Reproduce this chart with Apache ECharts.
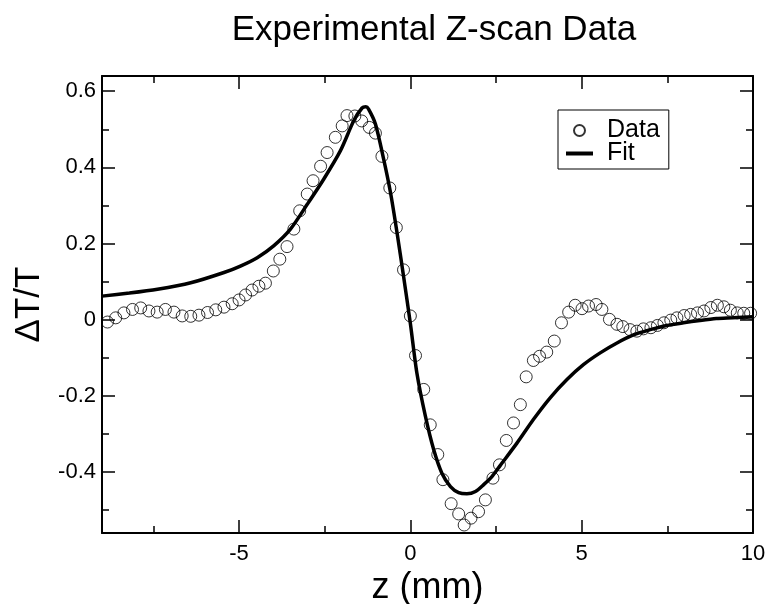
<!DOCTYPE html>
<html>
<head>
<meta charset="utf-8">
<script src="https://cdn.jsdelivr.net/npm/echarts@6/dist/echarts.min.js"></script>
<style>
  html, body { margin: 0; padding: 0; background: #fff; }
  #chart { width: 772px; height: 604px; }
</style>
</head>
<body>
<div id="chart"></div>
<script>
// measured points (z in mm, dT/T)
var dataZ = [-8.84, -8.60, -8.36, -8.11, -7.87, -7.63, -7.39, -7.15, -6.90, -6.66,
    -6.41, -6.17, -5.92, -5.68, -5.44, -5.20, -5.00, -4.81, -4.62, -4.42,
    -4.23, -4.00, -3.81, -3.60, -3.40, -3.23, -3.01, -2.84, -2.62, -2.43,
    -2.19, -1.99, -1.85, -1.62, -1.42, -1.20, -1.02, -0.83, -0.60, -0.41,
    -0.20, 0.00, 0.15, 0.39, 0.58, 0.80, 0.95, 1.19, 1.41, 1.57,
    1.77, 1.99, 2.19, 2.41, 2.60, 2.80, 3.01, 3.21, 3.38, 3.59,
    3.77, 3.98, 4.20, 4.41, 4.62, 4.81, 5.01, 5.20, 5.42, 5.59,
    5.81, 6.03, 6.20, 6.41, 6.61, 6.80, 7.02, 7.21, 7.40, 7.60,
    7.78, 7.99, 8.18, 8.38, 8.57, 8.77, 8.96, 9.15, 9.34, 9.54,
    9.73, 9.93];
var dataV = [-0.006, 0.005, 0.018, 0.027, 0.031, 0.023, 0.020, 0.027, 0.020, 0.010,
    0.009, 0.012, 0.019, 0.026, 0.033, 0.042, 0.052, 0.065, 0.078, 0.088,
    0.096, 0.128, 0.159, 0.192, 0.238, 0.286, 0.330, 0.365, 0.403, 0.439,
    0.479, 0.509, 0.536, 0.535, 0.522, 0.505, 0.490, 0.429, 0.346, 0.242,
    0.131, 0.010, -0.094, -0.183, -0.276, -0.354, -0.420, -0.483, -0.510, -0.539,
    -0.521, -0.504, -0.473, -0.416, -0.381, -0.317, -0.271, -0.223, -0.150, -0.107,
    -0.096, -0.085, -0.056, -0.008, 0.020, 0.038, 0.029, 0.036, 0.040, 0.027,
    0.001, -0.012, -0.018, -0.026, -0.030, -0.024, -0.021, -0.015, -0.008, -0.001,
    0.005, 0.011, 0.014, 0.018, 0.023, 0.032, 0.038, 0.034, 0.025, 0.018,
    0.017, 0.017];

// fit curve
var fitZ = [-9, -8.2, -7.38, -6.41, -5.44, -4.96, -4.47, -3.99, -3.50, -3.01,
    -2.53, -2.04, -1.65, -1.41, -1.30, -1.22, -1.02, -0.78, -0.58, -0.39,
    -0.20, 0, 0.19, 0.44, 0.68, 0.92, 1.17, 1.41, 1.65, 1.90,
    2.14, 2.38, 2.62, 3.11, 3.59, 4.08, 4.57, 5.05, 5.54, 6.03,
    6.51, 7.0, 7.48, 7.97, 8.45, 8.93, 9.42, 10];
var fitV = [0.062, 0.070, 0.080, 0.097, 0.124, 0.141, 0.163, 0.194, 0.238, 0.303,
    0.369, 0.444, 0.523, 0.556, 0.559, 0.553, 0.514, 0.422, 0.334, 0.229,
    0.115, -0.010, -0.140, -0.254, -0.341, -0.403, -0.438, -0.454, -0.457, -0.451,
    -0.433, -0.412, -0.383, -0.324, -0.262, -0.205, -0.157, -0.118, -0.087, -0.061,
    -0.040, -0.026, -0.015, -0.008, -0.002, 0.003, 0.005, 0.008];

var xMajor = [-5, 0, 5, 10];
var xMinor = [-7.5, -2.5, 2.5, 7.5];
var yMajor = [-0.4, -0.2, 0, 0.2, 0.4, 0.6];
var yMinor = [-0.5, -0.3, -0.1, 0.1, 0.3, 0.5];

var FONT = '"Liberation Sans", Arial, Helvetica, sans-serif';

function pairs(xs, ys) {
    var out = [];
    for (var i = 0; i < xs.length; i++) out.push([xs[i], ys[i]]);
    return out;
}

// one frame side: either the major ticks (with line) or the minor ticks
function makeAxis(min, max, pos, ticks, len, withLine, labelMargin) {
    return {
        type: 'value', min: min, max: max, position: pos,
        splitLine: {show: false},
        axisLine: {show: withLine, onZero: false, lineStyle: {color: '#000', width: 2}},
        axisTick: {show: true, inside: true, length: len, customValues: ticks,
            lineStyle: {color: '#000', width: 1.5}},
        axisLabel: labelMargin ? {show: true, customValues: ticks, color: '#000',
            fontSize: 22, fontFamily: FONT, margin: labelMargin} : {show: false}
    };
}

var xAxes = [
    makeAxis(-9, 10, 'bottom', xMajor, 13, true, 10),
    makeAxis(-9, 10, 'bottom', xMinor, 7, false, 0),
    makeAxis(-9, 10, 'top', xMajor, 13, true, 0),
    makeAxis(-9, 10, 'top', xMinor, 7, false, 0)
];
xAxes[0].name = 'z (mm)';
xAxes[0].nameLocation = 'middle';
xAxes[0].nameGap = 29;
xAxes[0].nameTextStyle = {fontSize: 36, color: '#000', fontFamily: FONT};

var yAxes = [
    makeAxis(-0.56, 0.64, 'left', yMajor, 13, true, 6),
    makeAxis(-0.56, 0.64, 'left', yMinor, 7, false, 0),
    makeAxis(-0.56, 0.64, 'right', yMajor, 13, true, 0),
    makeAxis(-0.56, 0.64, 'right', yMinor, 7, false, 0)
];
yAxes[0].name = 'ΔT/T';
yAxes[0].nameLocation = 'middle';
yAxes[0].nameGap = 53;
yAxes[0].nameTextStyle = {fontSize: 35, color: '#000', fontFamily: FONT};

var chart = echarts.init(document.getElementById('chart'), null, {renderer: 'canvas'});
chart.setOption({
    backgroundColor: '#fff',
    animation: false,
    title: {
        text: 'Experimental Z-scan Data',
        left: 429, top: 8, textAlign: 'center',
        textStyle: {fontSize: 35, fontWeight: 'normal', color: '#000', fontFamily: FONT}
    },
    legend: {
        orient: 'vertical', left: 558, top: 110,
        borderColor: '#000', borderWidth: 1, padding: [8, 9, 3, 8],
        itemWidth: 27, itemHeight: 11, itemGap: -2,
        textStyle: {fontSize: 25, lineHeight: 22, color: '#000', fontFamily: FONT, padding: [0, 0, 0, 9]},
        data: [
            {name: 'Data'},
            {name: 'Fit', icon: 'path://M0,0H27V4H0Z'}
        ]
    },
    grid: {left: 102, right: 19, top: 76, bottom: 71, outerBoundsMode: 'none'},
    xAxis: xAxes,
    yAxis: yAxes,
    series: [
        {
            name: 'Data', type: 'scatter', symbol: 'circle', symbolSize: 12,
            itemStyle: {color: 'rgba(0,0,0,0)', borderColor: '#000', borderWidth: 1},
            data: pairs(dataZ, dataV)
        },
        {
            name: 'Fit', type: 'line', symbol: 'none', smooth: 0.25,
            lineStyle: {color: '#000', width: 3.5},
            itemStyle: {color: '#000'},
            data: pairs(fitZ, fitV)
        }
    ]
});
</script>
</body>
</html>
